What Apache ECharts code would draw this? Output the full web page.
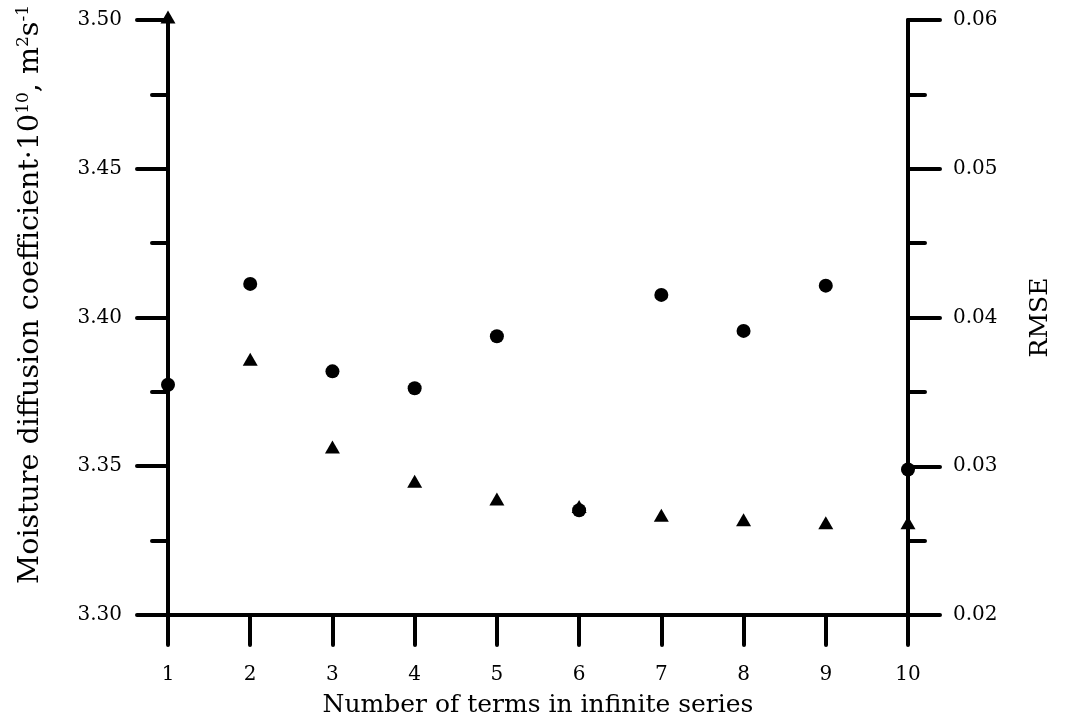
<!DOCTYPE html>
<html>
<head>
<meta charset="utf-8">
<script src="https://cdn.jsdelivr.net/npm/echarts@6/dist/echarts.min.js"></script>
<style>
html,body{margin:0;padding:0;background:#fff;}
#chart{width:1065px;height:728px;}
</style>
</head>
<body>
<div id="chart"></div>
<script>
// Number of terms in infinite series
var terms = [1, 2, 3, 4, 5, 6, 7, 8, 9, 10];
// Moisture diffusion coefficient ·10^10, m2/s (circles, left axis)
var diffusion = [3.3774, 3.4113, 3.3819, 3.3762, 3.3937, 3.3352, 3.4076, 3.3955, 3.4107, 3.3489];
// RMSE (triangles, right axis)
var rmse = [0.0602, 0.0372, 0.0313, 0.0290, 0.0278, 0.0273, 0.0267, 0.0264, 0.0262, 0.0262];
var leftTicks = ['3.30', '3.35', '3.40', '3.45', '3.50'];
var rightTicks = ['0.02', '0.03', '0.04', '0.05', '0.06'];

var FONT = 'DejaVu Serif';
var axisLineStyle = {color: '#000', width: 4, cap: 'round'};

var chart = echarts.init(document.getElementById('chart'));
chart.setOption({
  animation: false,
  backgroundColor: '#fff',
  grid: {left: 168, right: 157, top: 20, bottom: 113, containLabel: false},
  xAxis: {
    type: 'value', min: 1, max: 10, interval: 1,
    name: 'Number of terms in infinite series',
    nameLocation: 'middle', nameGap: 78,
    nameTextStyle: {fontFamily: FONT, fontSize: 25, color: '#000'},
    axisLine: {show: true, onZero: false, lineStyle: axisLineStyle},
    axisTick: {show: true, length: 30, lineStyle: {color: '#000', width: 4, cap: 'round'}},
    axisLabel: {margin: 50, fontFamily: FONT, fontSize: 20, color: '#000'},
    splitLine: {show: false}
  },
  yAxis: [{
    type: 'value', position: 'left', min: 3.30, max: 3.50, interval: 0.05,
    name: 'Moisture diffusion coefficient·10{sup|10}, m{sup|2}s{sup|-1}',
    nameLocation: 'middle', nameGap: 121, nameRotate: 90,
    nameTextStyle: {fontFamily: FONT, fontSize: 28.5, color: '#000', lineHeight: 32,
      padding: [0, 0, 0, 46],
      rich: {sup: {fontFamily: FONT, fontSize: 17, color: '#000', verticalAlign: 'top', lineHeight: 18}}},
    axisLine: {show: true, onZero: false, lineStyle: axisLineStyle},
    axisTick: {show: true, length: 31, lineStyle: {color: '#000', width: 4, cap: 'round'}},
    minorTick: {show: true, splitNumber: 2, length: 16, lineStyle: {color: '#000', width: 4, cap: 'round'}},
    axisLabel: {margin: 46, fontFamily: FONT, fontSize: 20, color: '#000',
      formatter: function (v) { return leftTicks[Math.round((v - 3.30) / 0.05)]; }},
    splitLine: {show: false}
  }, {
    type: 'value', position: 'right', min: 0.02, max: 0.06, interval: 0.01,
    name: 'RMSE',
    nameLocation: 'middle', nameGap: 120, nameRotate: 90,
    nameTextStyle: {fontFamily: FONT, fontSize: 25, color: '#000'},
    axisLine: {show: true, onZero: false, lineStyle: axisLineStyle},
    axisTick: {show: true, length: 32, lineStyle: {color: '#000', width: 4, cap: 'round'}},
    minorTick: {show: true, splitNumber: 2, length: 17, lineStyle: {color: '#000', width: 4, cap: 'round'}},
    axisLabel: {margin: 45, fontFamily: FONT, fontSize: 20, color: '#000',
      formatter: function (v) { return rightTicks[Math.round((v - 0.02) / 0.01)]; }},
    splitLine: {show: false}
  }],
  series: [{
    name: 'Moisture diffusion coefficient',
    type: 'scatter', yAxisIndex: 0, clip: false,
    symbol: 'circle', symbolSize: 14,
    itemStyle: {color: '#000', opacity: 1},
    data: terms.map(function (t, i) { return [t, diffusion[i]]; }),
    z: 3
  }, {
    name: 'RMSE',
    type: 'scatter', yAxisIndex: 1, clip: false,
    symbol: 'triangle', symbolSize: [15, 13],
    itemStyle: {color: '#000', opacity: 1},
    data: terms.map(function (t, i) { return [t, rmse[i]]; }),
    z: 4
  }]
});
</script>
</body>
</html>
